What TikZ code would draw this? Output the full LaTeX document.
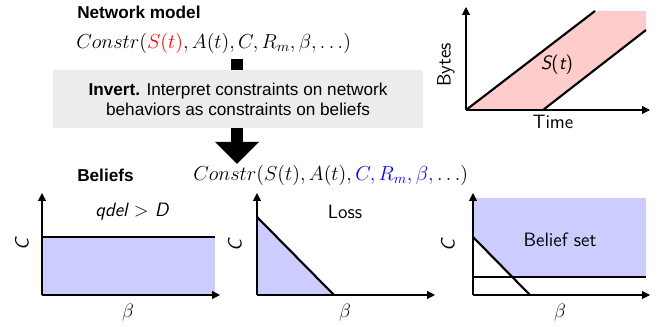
\RequirePackage{fix-cm}
\documentclass[tikz,border=0pt]{standalone}
\usepackage{amsmath}
\usepackage{fontspec}
\newfontfamily\arial{Liberation Sans}
\usetikzlibrary{arrows.meta,positioning}

\begin{document}
\begin{tikzpicture}[x=0.75pt,y=-0.75pt,
  hd/.style={font=\arial\bfseries\fontsize{12.9}{15}\selectfont,anchor=west,inner sep=0},
  eq/.style={font=\fontsize{15.2}{17}\selectfont,anchor=west,inner sep=0},
  box/.style={fill=gray!15,minimum width=277.5pt,minimum height=43.5pt,
    align=center,font=\arial\fontsize{12.9}{15}\selectfont},
  bigarr/.style={line width=9pt,-{Triangle[width=32pt,length=16.5pt]}},
  ax/.style={-{Triangle[width=6pt,length=6pt]},line width=0.8pt},
  bd/.style={line width=1.6pt},
  lab/.style={font=\sffamily\fontsize{14.5}{17}\selectfont,inner sep=0},
  ylab/.style={lab,rotate=90}]
  \useasboundingbox (0,0) rectangle (657,327);

  % network model
  \node[hd] (nm) at (77,12) {Network model};
  \node[eq] (c1) at (76,43) {$Constr(\textcolor{red}{S(t)}, A(t), C, R_m, \beta, \ldots)$};
  \coordinate (stemtop) at (237,59);
  \coordinate (tip) at (237,164);
  \draw[bigarr] (stemtop) -- (tip);
  \node[box] (inv) at (238,99) {\textbf{Invert.} Interpret constraints on network\\behaviors as constraints on beliefs};
  \node[hd] (bel) at (77,175) {Beliefs};
  \node[eq] (c2) at (193,175) {$Constr(S(t), A(t), \textcolor{blue}{C, R_m, \beta,} \ldots)$};

  % S(t) band
  \fill[red!20] (466,110) -- (595,11) -- (646,11) -- (646,30) -- (543,110) -- cycle;
  \draw[bd] (466,110) -- (595,11);
  \draw[bd] (543,110) -- (646,30);
  \coordinate (o0) at (466,110);
  \draw[ax] (o0) -- (466,7);
  \draw[ax] (o0) -- (650,110);
  \node[ylab] (bytes) at (446,65) {Bytes};
  \node[lab] (st) at (557,65) {\itshape S\upshape(\itshape t\upshape)};
  \node[lab] (time) at (553,122) {Time};

  % qdel > D
  \fill[blue!20] (42,237) rectangle (215,295);
  \draw[bd] (42,237) -- (215,237);
  \coordinate (o1) at (42,295);
  \draw[ax] (o1) -- (42,193);
  \draw[ax] (o1) -- (220,295);
  \node[lab] (q) at (132,212) {\itshape qdel \upshape$>$ \itshape D};
  \node[ylab] (c1y) at (22,244) {\itshape C};
  \node[lab] (b1) at (128,313) {$\beta$};

  % loss
  \fill[blue!20] (257,217) -- (334,295) -- (257,295) -- cycle;
  \draw[bd] (257,217) -- (334,295);
  \coordinate (o2) at (257,295);
  \draw[ax] (o2) -- (257,193);
  \draw[ax] (o2) -- (435,295);
  \node[lab] (loss) at (345,212) {Loss};
  \node[ylab] (c2y) at (235,245) {\itshape C};
  \node[lab] (b2) at (345,313) {$\beta$};

  % belief set
  \fill[blue!20] (473,198) -- (646,198) -- (646,277) -- (511,277) -- (473,237) -- cycle;
  \draw[bd] (473,237) -- (530,295);
  \draw[bd] (473,277) -- (646,277);
  \coordinate (o3) at (473,295);
  \draw[ax] (o3) -- (473,193);
  \draw[ax] (o3) -- (650,295);
  \node[lab] (bs) at (560,240) {Belief set};
  \node[ylab] (c3y) at (448,245) {\itshape C};
  \node[lab] (b3) at (560,313) {$\beta$};
\end{tikzpicture}
\end{document}
